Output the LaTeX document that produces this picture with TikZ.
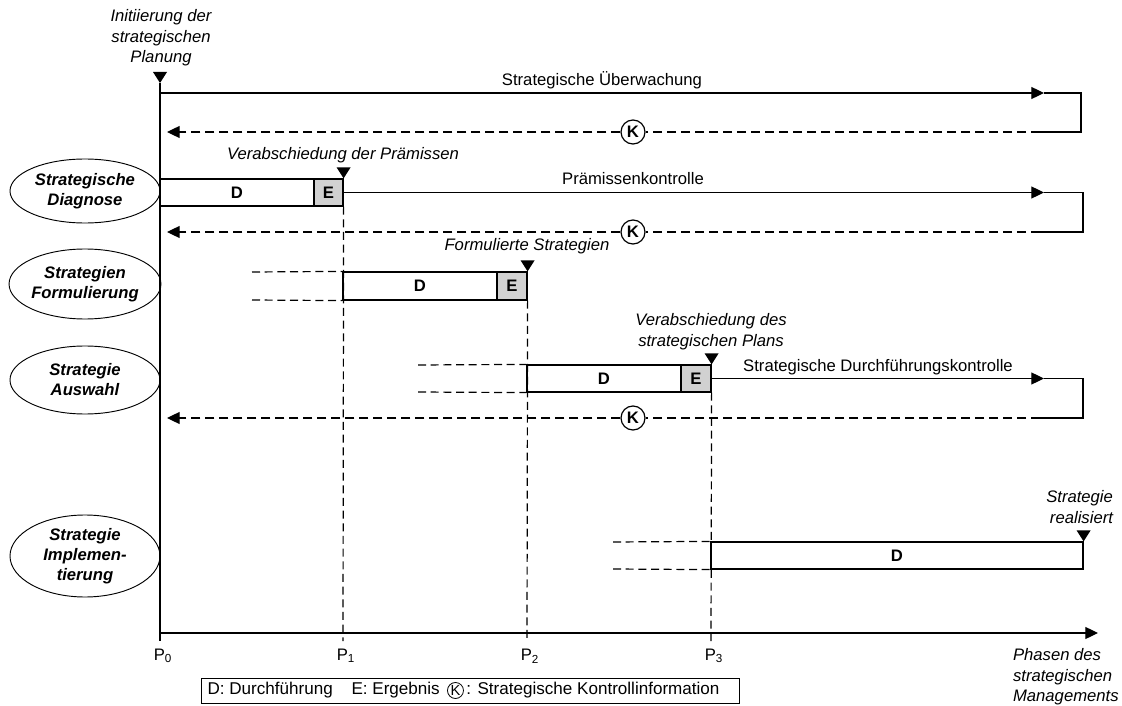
\documentclass[tikz,border=0pt]{standalone}
\usepackage{fontspec}
\setmainfont{Liberation Sans}
\usetikzlibrary{shapes.geometric,arrows.meta,fit,positioning}

\newcommand{\merk}[1]{\fill (#1) -- ++(-7,-11) -- ++(14,0) -- cycle;}

\begin{document}
\begin{tikzpicture}[x=0.75pt,y=-0.75pt,line width=0.9pt,
  font=\fontsize{12.5}{15.5}\selectfont,
  >={Triangle[length=9.5pt,width=9pt]},
  phase/.style={ellipse,draw,line width=0.7pt,inner sep=0pt,minimum width=112.5pt,align=center,font=\fontsize{12.5}{15}\selectfont\bfseries\itshape},
  dbox/.style={draw,inner sep=0pt},
  ebox/.style={dbox,fill=black!18},
  bx/.style={font=\fontsize{12.5}{15}\selectfont\bfseries},
  kreis/.style={circle,draw,fill=white,inner sep=0pt,minimum size=18pt,font=\fontsize{12.5}{15}\selectfont\bfseries},
  rueck/.style={dash pattern=on 7pt off 3.5pt},
  hilfs/.style={dash pattern=on 6pt off 3.5pt},
  note/.style={align=center,font=\fontsize{12.5}{15.5}\selectfont\itshape}]
\useasboundingbox (0,0) rectangle (1122,706);

% Phasen (links)
\node[phase,minimum height=48pt] (diag) at (85,191) {Strategische\\Diagnose};
\node[phase,minimum height=52.5pt] (form) at (85,284) {Strategien\\Formulierung};
\node[phase,minimum height=51pt] (ausw) at (85,380) {Strategie\\Auswahl};
\node[phase,minimum height=61.5pt] (impl) at (85,556) {Strategie\\Implemen-\\tierung};

% Achsen
\coordinate (start) at (160,83);
\coordinate (unten) at (160,641);
\coordinate (ende) at (1098,633);
\draw (start) -- (unten);
\draw[->] (160,633) -- (ende);
\merk{start}
\node[note] (init) at (161,38) {Initiierung der\\strategischen\\Planung};
\node[note,align=left,anchor=west] (phm) at (1008,677) {Phasen des\\strategischen\\Managements};

% Balken D / E
\node[dbox,fit={(160,179) (314,206)},label={[bx]center:D}] (d1) {};
\node[ebox,fit={(314,179) (343,206)},label={[bx]center:E}] (e1) {};
\node[dbox,fit={(343,272) (497,300)},label={[bx]center:D}] (d2) {};
\node[ebox,fit={(497,272) (527,300)},label={[bx]center:E}] (e2) {};
\node[dbox,fit={(527,365) (681,392)},label={[bx]center:D}] (d3) {};
\node[ebox,fit={(681,365) (711,392)},label={[bx]center:E}] (e3) {};
\node[dbox,fit={(711,542) (1083,569)},label={[bx]center:D}] (d4) {};
\merk{e1.north east}
\merk{e2.north east}
\merk{e3.north east}
\merk{d4.north east}

% Zeitpunkte
\node (p0) at (163,656) {P\textsubscript{0}};
\node (p1) at (346,656) {P\textsubscript{1}};
\node (p2) at (530,656) {P\textsubscript{2}};
\node (p3) at (714,656) {P\textsubscript{3}};
\draw[hilfs] (e1.south east) -- (343,641);
\draw[hilfs] (e2.south east) -- (527,641);
\draw[hilfs] (e3.south east) -- (711,641);

% gestrichelte Vorlaeufe
\draw[hilfs] (252,272) -- (d2.north west);
\draw[hilfs] (252,300) -- (d2.south west);
\draw[hilfs] (418,365) -- (d3.north west);
\draw[hilfs] (418,392) -- (d3.south west);
\draw[hilfs] (613,542) -- (d4.north west);
\draw[hilfs] (613,569) -- (d4.south west);

% Beschriftungen
\node[note] (vp) at (343,155) {Verabschiedung der Prämissen};
\node[note] (fs) at (527,246) {Formulierte Strategien};
\node[note] (vsp) at (711,332) {Verabschiedung des\\strategischen Plans};
\node[note,align=right,anchor=east] (sr) at (1118,507) {Strategie\\realisiert};
\node (ueb) at (602,80) {Strategische Überwachung};
\node (pk) at (633,179) {Prämissenkontrolle};
\node (sdk) at (878,367) {Strategische Durchführungskontrolle};

% Schleife 1: Strategische Ueberwachung
\coordinate (s1) at (160,93);
\coordinate (a1) at (1044,93);
\coordinate (r1) at (1081,93);
\coordinate (r1u) at (1081,132);
\coordinate (b1) at (1040,132);
\coordinate (z1) at (167,132);
\node[kreis] (k1) at (633,132) {K};
\draw[->] (s1) -- (a1);
\draw (a1) -- (r1) -- (r1u) -- (b1);
\draw[rueck] (b1) -- (k1);
\draw[rueck,->] (k1) -- (z1);

% Schleife 2: Praemissenkontrolle
\coordinate (a2) at (1044,192.5);
\coordinate (r2) at (1083,192.5);
\coordinate (r2u) at (1083,232);
\coordinate (b2) at (1040,232);
\coordinate (z2) at (167,232);
\node[kreis] (k2) at (633,232) {K};
\draw[->] (e1.east) -- (a2);
\draw (a2) -- (r2) -- (r2u) -- (b2);
\draw[rueck] (b2) -- (k2);
\draw[rueck,->] (k2) -- (z2);

% Schleife 3: Durchfuehrungskontrolle
\coordinate (a3) at (1044,378.5);
\coordinate (r3) at (1083,378.5);
\coordinate (r3u) at (1083,418);
\coordinate (b3) at (1040,418);
\coordinate (z3) at (167,418);
\node[kreis] (k3) at (633,418) {K};
\draw[->] (e3.east) -- (a3);
\draw (a3) -- (r3) -- (r3u) -- (b3);
\draw[rueck] (b3) -- (k3);
\draw[rueck,->] (k3) -- (z3);

% Legende
\node[draw,line width=0.7pt,fit={(201,678) (739,703)},inner sep=0pt] (leg) {};
\node[anchor=west,inner xsep=0pt,font=\fontsize{12.8}{15}\selectfont] (l1) at (207,690.5) {D: Durchführung\hspace{1.1em}E: Ergebnis};
\node[circle,draw,line width=0.6pt,inner sep=0pt,minimum size=12pt,right=5pt of l1,font=\fontsize{11}{12}\selectfont] (lk) {K};
\node[right=1.5pt of lk,inner xsep=0pt,font=\fontsize{12.8}{15}\selectfont] (l2) {: Strategische Kontrollinformation};
\end{tikzpicture}
\end{document}
